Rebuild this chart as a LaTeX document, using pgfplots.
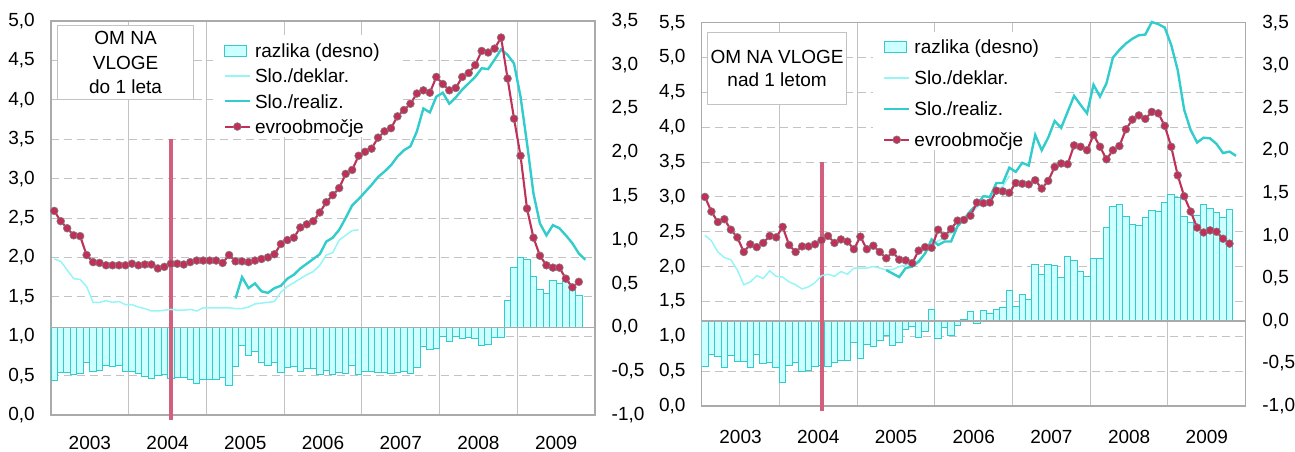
\documentclass[border=0pt]{standalone}
\usepackage{fontspec}
\setmainfont{Liberation Sans}
\usepackage{pgfplots}
\pgfplotsset{compat=1.18}
\definecolor{evro}{RGB}{192,48,88}
\definecolor{evroline}{RGB}{210,95,125}
\definecolor{realiz}{RGB}{51,204,204}
\definecolor{deklar}{RGB}{150,245,245}
\definecolor{barfill}{RGB}{204,255,255}
\definecolor{bardraw}{RGB}{51,204,204}
\definecolor{gridc}{RGB}{195,195,195}
\definecolor{axisc}{RGB}{170,170,170}
\pgfplotsset{
  panel/.style={scale only axis, width=544pt, xmin=-0.5, xmax=83.5, anchor=south west},
  framegrid/.style={
    xtick={5.5,17.5,29.5,41.5,53.5,65.5,77.5},
    xticklabels={2003,2004,2005,2006,2007,2008,2009},
    minor xtick={11.5,23.5,35.5,47.5,59.5,71.5},
    xminorgrids, ymajorgrids,
    major grid style={gridc, dash pattern=on 8pt off 5pt, line width=1pt},
    minor grid style={gridc, line width=1pt},
    major tick length=0pt, minor tick length=0pt,
    axis line style={axisc, line width=1.3pt},
    tick label style={font=\fontsize{19}{22}\selectfont},
    yticklabel style={anchor=east, inner sep=0pt, xshift=-16pt},
    xticklabel style={anchor=base, inner sep=0pt, yshift=-37pt},
  },
  barsaxis/.style={
    ymin=-1, ymax=3.5, axis x line=none, axis y line*=right,
    axis line style={draw=none}, major tick length=0pt,
    ytick={-1,-0.5,0,0.5,1,1.5,2,2.5,3,3.5},
    yticklabels={{-1,0},{-0,5},{0,0},{0,5},{1,0},{1,5},{2,0},{2,5},{3,0},{3,5}},
    tick label style={font=\fontsize{19}{22}\selectfont},
    yticklabel style={anchor=west, inner sep=0pt, xshift=16.5pt},
  },
  linesaxis/.style={
    hide axis, clip=false,
    legend cell align=left,
    legend image code/.code={\draw[mark repeat=2,mark phase=2,##1] plot coordinates {(0pt,0pt) (12.5pt,0pt) (25pt,0pt)};},
  },
  barstyle/.style={ybar, bar width=1, fill=barfill, draw=bardraw, line width=1pt},
  evrostyle/.style={evro, line width=2.1pt, mark=*, mark size=3.9pt, mark options={fill=evro, draw=gray, line width=0.6pt}},
}
\begin{document}
\begin{tikzpicture}
\useasboundingbox (0pt,0pt) rectangle (1295pt,451pt);
%================ LEFT PANEL =================
\begin{axis}[panel, framegrid, at={(51pt,36pt)}, height=394pt, ymin=0, ymax=5,
  xticklabel style={yshift=3pt},
  ytick={0,0.5,1,1.5,2,2.5,3,3.5,4,4.5,5},
  yticklabels={{0,0},{0,5},{1,0},{1,5},{2,0},{2,5},{3,0},{3,5},{4,0},{4,5},{5,0}}]
\addplot[draw=none] coordinates {(0,0)};
\end{axis}
\begin{axis}[panel, barsaxis, at={(51pt,36pt)}, height=394pt]
\addplot[barstyle] coordinates {(0,-0.61) (1,-0.51) (2,-0.51) (3,-0.54) (4,-0.53) (5,-0.40) (6,-0.50) (7,-0.49) (8,-0.44) (9,-0.45) (10,-0.44) (11,-0.50) (12,-0.50) (13,-0.53) (14,-0.56) (15,-0.58) (16,-0.55) (17,-0.54) (18,-0.58) (19,-0.57) (20,-0.57) (21,-0.59) (22,-0.64) (23,-0.60) (24,-0.60) (25,-0.60) (26,-0.57) (27,-0.66) (28,-0.45) (29,-0.21) (30,-0.32) (31,-0.28) (32,-0.40) (33,-0.44) (34,-0.40) (35,-0.51) (36,-0.46) (37,-0.45) (38,-0.50) (39,-0.47) (40,-0.47) (41,-0.54) (42,-0.49) (43,-0.54) (44,-0.52) (45,-0.53) (46,-0.44) (47,-0.54) (48,-0.50) (49,-0.50) (50,-0.52) (51,-0.52) (52,-0.53) (53,-0.52) (54,-0.50) (55,-0.53) (56,-0.46) (57,-0.22) (58,-0.25) (59,-0.24) (60,-0.10) (61,-0.16) (62,-0.10) (63,-0.13) (64,-0.12) (65,-0.13) (66,-0.21) (67,-0.20) (68,-0.12) (69,-0.12) (70,0.31) (71,0.69) (72,0.80) (73,0.78) (74,0.58) (75,0.43) (76,0.39) (77,0.54) (78,0.50) (79,0.52) (80,0.45) (81,0.36)};
\addplot[axisc, line width=1.5pt] coordinates {(-0.5,0) (83.5,0)};
\end{axis}
\begin{axis}[panel, linesaxis, at={(51pt,36pt)}, height=394pt, ymin=0, ymax=5,
  legend style={at={(rel axis cs:0.317,0.943)}, anchor=north west, draw=none, fill=none, inner sep=0pt,
    font=\fontsize{19}{22}\selectfont, row sep=11.3pt,
    nodes={inner sep=0pt, text height=14pt, text depth=0pt},
    /tikz/every odd column/.append style={column sep=4pt}}]
\fill[white] (rel axis cs:0.298,0.706) rectangle (rel axis cs:0.647,0.964);
\node[draw=gridc, line width=1.2pt, fill=white, align=center, font=\fontsize{19}{24.5}\selectfont,
  minimum width=136pt, minimum height=74pt, inner sep=0pt, anchor=north west]
  at (rel axis cs:0.011,0.990) {OM NA\\VLOGE\\do 1 leta};
\addplot[evroline, line width=4pt, forget plot] coordinates {(18,-0.06) (18,3.5)};
\addlegendimage{legend image code/.code={\draw[fill=barfill,draw=bardraw,line width=1pt] (0pt,-5.5pt) rectangle (22pt,5.5pt);}}
\addlegendentry{razlika (desno)}
\addplot[deklar, line width=1.5pt] coordinates {(0,1.98) (1,1.95) (2,1.84) (3,1.73) (4,1.72) (5,1.63) (6,1.43) (7,1.43) (8,1.45) (9,1.43) (10,1.44) (11,1.40) (12,1.40) (13,1.37) (14,1.35) (15,1.32) (16,1.32) (17,1.33) (18,1.34) (19,1.33) (20,1.33) (21,1.34) (22,1.32) (23,1.36) (24,1.36) (25,1.36) (26,1.36) (27,1.36) (28,1.35) (29,1.35) (30,1.37) (31,1.41) (32,1.42) (33,1.43) (34,1.44) (35,1.56) (36,1.63) (37,1.68) (38,1.73) (39,1.78) (40,1.82) (41,1.90) (42,2.03) (43,2.06) (44,2.22) (45,2.28) (46,2.34) (47,2.35)};
\addlegendentry{Slo./deklar.}
\addplot[realiz, line width=2.4pt] coordinates {(28,1.48) (29,1.75) (30,1.61) (31,1.67) (32,1.57) (33,1.55) (34,1.61) (35,1.64) (36,1.73) (37,1.78) (38,1.86) (39,1.92) (40,1.98) (41,2.04) (42,2.20) (43,2.25) (44,2.35) (45,2.50) (46,2.66) (47,2.74) (48,2.83) (49,2.92) (50,3.02) (51,3.09) (52,3.17) (53,3.28) (54,3.36) (55,3.41) (56,3.60) (57,3.89) (58,3.84) (59,4.04) (60,4.09) (61,3.95) (62,4.03) (63,4.13) (64,4.21) (65,4.29) (66,4.40) (67,4.39) (68,4.51) (69,4.64) (70,4.57) (71,4.46) (72,4.04) (73,3.45) (74,2.81) (75,2.43) (76,2.28) (77,2.41) (78,2.37) (79,2.28) (80,2.18) (81,2.05) (82,1.97)};
\addlegendentry{Slo./realiz.}
\addplot[evrostyle] coordinates {(0,2.59) (1,2.46) (2,2.37) (3,2.28) (4,2.27) (5,2.03) (6,1.94) (7,1.93) (8,1.90) (9,1.90) (10,1.90) (11,1.90) (12,1.92) (13,1.90) (14,1.91) (15,1.91) (16,1.86) (17,1.88) (18,1.92) (19,1.92) (20,1.91) (21,1.94) (22,1.96) (23,1.96) (24,1.96) (25,1.96) (26,1.93) (27,2.03) (28,1.95) (29,1.95) (30,1.94) (31,1.96) (32,1.98) (33,2.00) (34,2.04) (35,2.17) (36,2.22) (37,2.25) (38,2.38) (39,2.42) (40,2.46) (41,2.57) (42,2.70) (43,2.79) (44,2.88) (45,3.06) (46,3.11) (47,3.29) (48,3.34) (49,3.38) (50,3.52) (51,3.60) (52,3.64) (53,3.79) (54,3.87) (55,3.95) (56,4.08) (57,4.12) (58,4.09) (59,4.29) (60,4.20) (61,4.12) (62,4.15) (63,4.29) (64,4.34) (65,4.44) (66,4.62) (67,4.60) (68,4.65) (69,4.79) (70,4.27) (71,3.76) (72,3.29) (73,2.62) (74,2.25) (75,2.02) (76,1.90) (77,1.87) (78,1.87) (79,1.73) (80,1.62) (81,1.69)};
\addlegendentry{evroobmočje}
\end{axis}
%================ RIGHT PANEL =================
\begin{axis}[panel, framegrid, at={(701.7pt,45pt)}, height=383.3pt, ymin=0, ymax=5.5,
  ytick={0,0.5,1,1.5,2,2.5,3,3.5,4,4.5,5,5.5},
  yticklabels={{0,0},{0,5},{1,0},{1,5},{2,0},{2,5},{3,0},{3,5},{4,0},{4,5},{5,0},{5,5}}]
\addplot[draw=none] coordinates {(0,0)};
\end{axis}
\begin{axis}[panel, barsaxis, at={(701.7pt,45pt)}, height=383.3pt]
\addplot[barstyle] coordinates {(0,-0.54) (1,-0.39) (2,-0.42) (3,-0.55) (4,-0.41) (5,-0.48) (6,-0.48) (7,-0.55) (8,-0.40) (9,-0.50) (10,-0.49) (11,-0.55) (12,-0.72) (13,-0.53) (14,-0.49) (15,-0.60) (16,-0.58) (17,-0.54) (18,-0.53) (19,-0.54) (20,-0.49) (21,-0.47) (22,-0.47) (23,-0.26) (24,-0.44) (25,-0.28) (26,-0.30) (27,-0.23) (28,-0.17) (29,-0.29) (30,-0.25) (31,-0.10) (32,-0.07) (33,-0.19) (34,-0.12) (35,0.13) (36,-0.21) (37,-0.08) (38,-0.17) (39,-0.05) (40,0.02) (41,0.11) (42,-0.03) (43,0.12) (44,0.09) (45,0.13) (46,0.16) (47,0.36) (48,0.17) (49,0.31) (50,0.25) (51,0.66) (52,0.54) (53,0.66) (54,0.65) (55,0.51) (56,0.75) (57,0.71) (58,0.58) (59,0.52) (60,0.73) (61,0.73) (62,1.09) (63,1.34) (64,1.37) (65,1.22) (66,1.13) (67,1.12) (68,1.21) (69,1.29) (70,1.28) (71,1.39) (72,1.48) (73,1.45) (74,1.22) (75,1.16) (76,1.24) (77,1.37) (78,1.32) (79,1.27) (80,1.21) (81,1.31)};
\addplot[axisc, line width=1.5pt] coordinates {(-0.5,0) (83.5,0)};
\end{axis}
\begin{axis}[panel, linesaxis, at={(701.7pt,45pt)}, height=383.3pt, ymin=0, ymax=5.5,
  legend style={at={(rel axis cs:0.333,0.956)}, anchor=north west, draw=none, fill=none, inner sep=0pt,
    font=\fontsize{19}{22}\selectfont, row sep=17pt,
    nodes={inner sep=0pt, text height=14pt, text depth=0pt},
    /tikz/every odd column/.append style={column sep=4pt}}]
\fill[white] (rel axis cs:0.315,0.668) rectangle (rel axis cs:0.649,0.976);
\node[draw=gridc, line width=1.2pt, fill=white, align=center, font=\fontsize{19}{23.5}\selectfont,
  minimum width=139pt, minimum height=72pt, inner sep=0pt, anchor=north west]
  at (rel axis cs:0.0097,0.976) {OM NA VLOGE\\nad 1 letom};
\addplot[evroline, line width=4pt, forget plot] coordinates {(18,-0.07) (18,3.5)};
\addlegendimage{legend image code/.code={\draw[fill=barfill,draw=bardraw,line width=1pt] (0pt,-5.5pt) rectangle (22pt,5.5pt);}}
\addlegendentry{razlika (desno)}
\addplot[deklar, line width=1.5pt] coordinates {(0,2.45) (1,2.37) (2,2.21) (3,2.13) (4,2.10) (5,1.95) (6,1.74) (7,1.78) (8,1.87) (9,1.83) (10,1.94) (11,1.86) (12,1.85) (13,1.78) (14,1.74) (15,1.68) (16,1.71) (17,1.77) (18,1.87) (19,1.89) (20,1.86) (21,1.93) (22,1.89) (23,1.98) (24,1.98) (25,1.98) (26,2.00) (27,1.98) (28,1.95) (29,1.96) (30,2.00) (31,2.02) (32,2.05) (33,2.09) (34,2.19) (35,2.31) (36,2.37) (37,2.41) (38,2.48) (39,2.57) (40,2.67) (41,2.75) (42,2.85) (43,2.93) (44,2.97) (45,3.10) (46,3.15) (47,3.30)};
\addlegendentry{Slo./deklar.}
\addplot[realiz, line width=2.4pt] coordinates {(28,1.95) (29,1.90) (30,1.85) (31,1.98) (32,2.00) (33,2.07) (34,2.19) (35,2.39) (36,2.31) (37,2.36) (38,2.36) (39,2.58) (40,2.68) (41,2.80) (42,2.89) (43,3.01) (44,3.00) (45,3.20) (46,3.20) (47,3.42) (48,3.36) (49,3.49) (50,3.45) (51,3.89) (52,3.67) (53,3.85) (54,4.09) (55,3.99) (56,4.22) (57,4.45) (58,4.32) (59,4.20) (60,4.61) (61,4.44) (62,4.63) (63,5.00) (64,5.11) (65,5.20) (66,5.27) (67,5.32) (68,5.33) (69,5.51) (70,5.48) (71,5.43) (72,5.18) (73,4.82) (74,4.25) (75,3.96) (76,3.78) (77,3.85) (78,3.84) (79,3.76) (80,3.63) (81,3.65) (82,3.59)};
\addlegendentry{Slo./realiz.}
\addplot[evrostyle] coordinates {(0,3.00) (1,2.79) (2,2.64) (3,2.68) (4,2.53) (5,2.42) (6,2.21) (7,2.32) (8,2.28) (9,2.34) (10,2.44) (11,2.42) (12,2.57) (13,2.31) (14,2.21) (15,2.29) (16,2.29) (17,2.32) (18,2.38) (19,2.44) (20,2.34) (21,2.39) (22,2.36) (23,2.25) (24,2.43) (25,2.25) (26,2.30) (27,2.21) (28,2.12) (29,2.21) (30,2.10) (31,2.09) (32,2.05) (33,2.23) (34,2.28) (35,2.27) (36,2.53) (37,2.44) (38,2.54) (39,2.66) (40,2.67) (41,2.73) (42,2.92) (43,2.91) (44,2.92) (45,3.09) (46,3.08) (47,3.06) (48,3.20) (49,3.19) (50,3.18) (51,3.24) (52,3.12) (53,3.23) (54,3.43) (55,3.48) (56,3.47) (57,3.74) (58,3.72) (59,3.67) (60,3.89) (61,3.72) (62,3.54) (63,3.67) (64,3.73) (65,3.97) (66,4.11) (67,4.17) (68,4.12) (69,4.22) (70,4.20) (71,4.02) (72,3.72) (73,3.31) (74,3.01) (75,2.79) (76,2.56) (77,2.49) (78,2.52) (79,2.50) (80,2.40) (81,2.33)};
\addlegendentry{evroobmočje}
\end{axis}
\end{tikzpicture}
\end{document}
